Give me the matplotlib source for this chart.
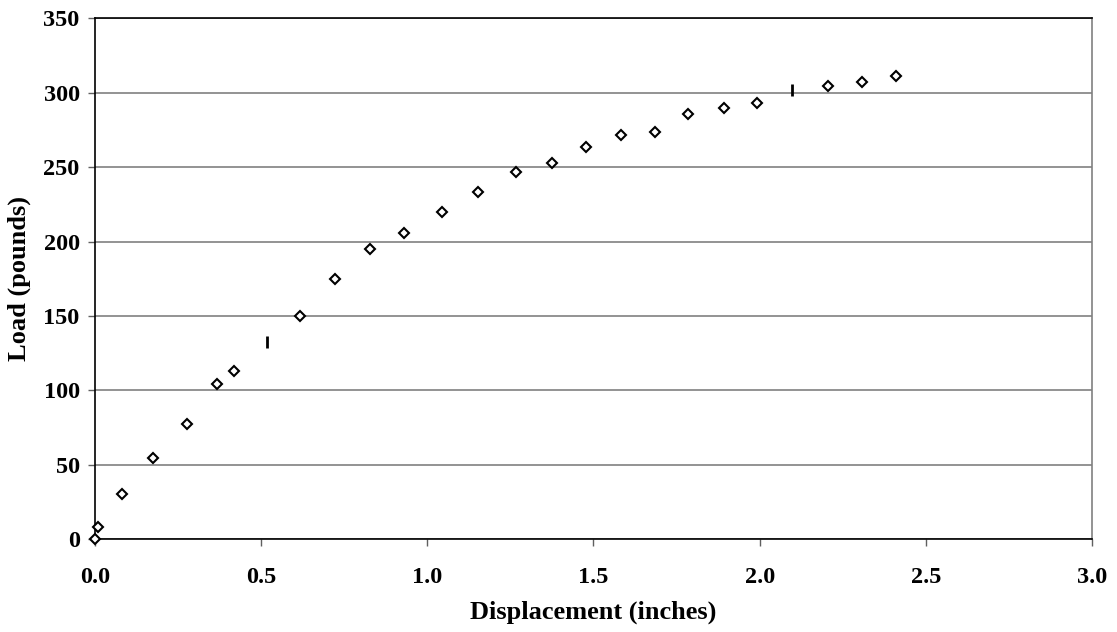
import matplotlib
matplotlib.use("Agg")
import matplotlib.pyplot as plt

# Load-displacement test readings
displacement = [0.0, 0.008, 0.082, 0.176, 0.278, 0.367, 0.418, 0.618, 0.723,
                0.829, 0.930, 1.045, 1.153, 1.267, 1.376, 1.477, 1.583, 1.685,
                1.785, 1.892, 1.993, 2.205, 2.307, 2.410]
load = [0.0, 8.1, 30.4, 54.4, 77.7, 104.5, 113.1, 150.2, 174.7,
        195.0, 206.0, 219.7, 233.3, 246.7, 252.6, 263.5, 271.8, 273.8,
        285.9, 289.9, 292.9, 304.3, 307.4, 311.0]

# Readings recorded with the dash marker
dash_displacement = [0.517, 2.097]
dash_load = [132.3, 301.8]

x_ticks = [0.0, 0.5, 1.0, 1.5, 2.0, 2.5, 3.0]
y_ticks = [0, 50, 100, 150, 200, 250, 300, 350]

plt.rcParams["font.family"] = ["Liberation Serif", "DejaVu Serif"]
plt.rcParams["font.weight"] = "bold"

fig = plt.figure(figsize=(11.17, 6.32), dpi=100)
ax = fig.add_axes([0.085, 0.1467, 0.8926, 0.8243])

ax.set_xlim(0, 3.0)
ax.set_ylim(0, 350)
ax.set_xticks(x_ticks)
ax.set_xticklabels([f"{v:.1f}" for v in x_ticks])
ax.set_yticks(y_ticks)
ax.set_yticklabels([str(v) for v in y_ticks])

ax.yaxis.grid(True, color="#808080", linewidth=1.2)
ax.set_axisbelow(True)

for side in ("left", "bottom", "top"):
    ax.spines[side].set_color("black")
    ax.spines[side].set_linewidth(1.2)
ax.spines["right"].set_color("#808080")
ax.spines["right"].set_linewidth(1.2)

ax.tick_params(axis="both", direction="out", length=5, width=1.0,
               color="#606060", labelsize=17.5)
ax.tick_params(axis="x", pad=15)
ax.tick_params(axis="y", pad=6)
for lbl in ax.get_xticklabels() + ax.get_yticklabels():
    lbl.set_fontweight("bold")

ax.plot(displacement, load, linestyle="none", marker="D", markersize=5.5,
        markerfacecolor="white", markeredgecolor="black",
        markeredgewidth=1.5, clip_on=False, zorder=3)
ax.plot(dash_displacement, dash_load, linestyle="none", marker="|",
        markersize=8, markeredgecolor="black", markeredgewidth=2.0,
        zorder=3)

ax.set_xlabel("Displacement (inches)", fontsize=19, fontweight="bold",
              labelpad=9)
ax.set_ylabel("Load (pounds)", fontsize=19, fontweight="bold", labelpad=9)

fig.savefig("out.png", dpi=100, facecolor="white")
